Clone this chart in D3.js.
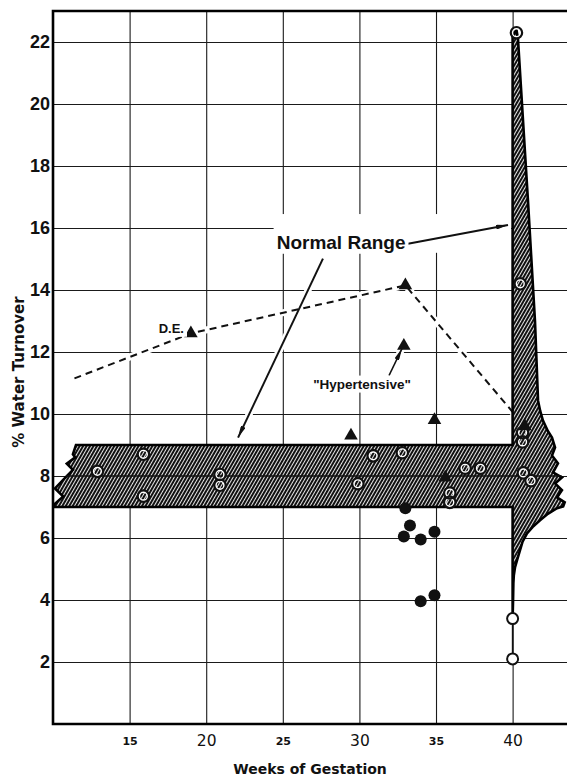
<!DOCTYPE html>
<html>
<head>
<meta charset="utf-8">
<script src="https://cdn.jsdelivr.net/npm/d3@7"></script>
<style>
body { margin: 0; background: #fff; }
svg { display: block; }
</style>
</head>
<body>
<svg id="chart" width="567" height="778"></svg>
<script>
// % water turnover by week of gestation

var xTicks = [15, 20, 25, 30, 35, 40];
var xTicksLarge = [20, 30, 40];
var yTicks = [2, 4, 6, 8, 10, 12, 14, 16, 18, 20, 22];

// open circles [week, %]
var openPoints = [
    [12.9, 8.15], [15.9, 8.7], [15.9, 7.35], [20.9, 8.05], [20.9, 7.7],
    [29.9, 7.75], [30.9, 8.65], [32.8, 8.75], [35.9, 7.45], [35.9, 7.15],
    [36.9, 8.25], [37.9, 8.25], [40.65, 9.4], [40.65, 9.1], [40.7, 8.1],
    [41.2, 7.85], [40.5, 14.2], [40.25, 22.3]
];
// open circles below the band, joined by a line
var tailPoints = [[40.0, 3.4], [40.0, 2.1]];

// filled circles
var filledPoints = [
    [33.0, 6.96], [33.3, 6.4], [32.9, 6.05], [34.0, 5.95], [34.9, 6.2],
    [34.0, 3.96], [34.9, 4.15]
];

// triangles
var trianglePoints = [
    [19.0, 12.6], [33.0, 14.15], [32.9, 12.2], [29.45, 9.3], [34.9, 9.8],
    [35.6, 7.95], [40.8, 9.6]
];

// dashed D.E. line
var dashedLine = [[11.4, 11.15], [19.0, 12.6], [33.0, 14.15], [40.8, 9.6]];

// normal range band, outline
var bandOutline = [
    [11.5, 9.0], [40.0, 9.0], [40.0, 22.2], [40.25, 22.4], [40.35, 22.1],
    [41.0, 16.9], [41.46, 13.0], [41.66, 10.43], [41.8, 10.1], [41.98, 9.79],
    [42.3, 9.45], [42.57, 9.24], [42.77, 8.92],
    [42.57, 8.66], [42.96, 8.41], [42.64, 8.12], [43.22, 7.95], [42.77, 7.76],
    [43.22, 7.54], [42.9, 7.31], [43.4, 7.15], [43.3, 7.02],
    [42.9, 6.96], [42.3, 6.78], [41.79, 6.57], [41.3, 6.35], [40.94, 6.15],
    [40.65, 5.88], [40.48, 5.6], [40.3, 5.3], [40.16, 5.06], [40.08, 4.8],
    [40.05, 4.54], [40.03, 4.0], [40.0, 3.41],
    [40.0, 7.0], [10.07, 7.0],
    [10.07, 7.08], [10.67, 7.34], [10.13, 7.6], [10.85, 7.97], [11.3, 8.2],
    [10.9, 8.4], [11.45, 8.6], [11.3, 8.7]
];
var bandMid = [[10.85, 8.0], [43.2, 8.0]];

// annotations
var noteText = ['Normal Range', 'D.E.', '"Hypertensive"'];
var noteAt = [[24.6, 15.33], [16.9, 12.62], [30.17, 10.82]];
var arrowLines = [
    [[27.62, 15.01], [22.08, 9.24]],
    [[33.17, 15.49], [39.7, 16.1]],
    [[31.93, 11.24], [32.78, 12.11]]
];

var svg = d3.select('#chart');

var x = d3.scaleLinear().domain([10, 43.55]).range([53, 567]);
var y = d3.scaleLinear().domain([0, 23]).range([724, 11]);

var line = d3.line()
    .x(function(d) { return x(d[0]); })
    .y(function(d) { return y(d[1]); });

// hatch + arrow head
var defs = svg.append('defs');
var pat = defs.append('pattern')
    .attr('id', 'hatch')
    .attr('patternUnits', 'userSpaceOnUse')
    .attr('width', 3).attr('height', 10)
    .attr('patternTransform', 'rotate(30)');
pat.append('rect').attr('width', 3).attr('height', 10).attr('fill', '#fff');
pat.append('rect').attr('width', 2.1).attr('height', 10).attr('fill', '#111');

defs.append('marker')
    .attr('id', 'head')
    .attr('viewBox', '0 0 12 5')
    .attr('refX', 12).attr('refY', 2.5)
    .attr('markerWidth', 12).attr('markerHeight', 5)
    .attr('markerUnits', 'userSpaceOnUse')
    .attr('orient', 'auto')
  .append('path')
    .attr('d', 'M0,0L12,2.5L0,5Z')
    .attr('fill', '#111');

// grid
var gx = svg.append('g')
    .attr('transform', 'translate(0,' + y(0) + ')')
    .call(d3.axisBottom(x).tickValues(xTicks).tickSize(-(y(0) - y(23))).tickFormat(d3.format('d')));
gx.select('.domain').remove();
gx.selectAll('line').attr('stroke', '#1a1a1a').attr('stroke-width', 1.1);
gx.selectAll('text')
    .attr('fill', '#111')
    .attr('font-family', '"DejaVu Sans", sans-serif')
    .attr('font-size', function(d) { return xTicksLarge.indexOf(d) >= 0 ? 15.5 : 11; })
    .attr('font-weight', function(d) { return xTicksLarge.indexOf(d) >= 0 ? 'normal' : 'bold'; })
    .attr('y', function(d) { return xTicksLarge.indexOf(d) >= 0 ? 11 : 13.5; });

var gy = svg.append('g')
    .attr('transform', 'translate(' + x(10) + ',0)')
    .call(d3.axisLeft(y).tickValues(yTicks).tickSize(-(x(43.55) - x(10))).tickPadding(3));
gy.select('.domain').remove();
gy.selectAll('line').attr('stroke', '#1a1a1a').attr('stroke-width', 1.1);
gy.selectAll('text')
    .attr('fill', '#111')
    .attr('font-family', '"Liberation Sans", Arial, sans-serif')
    .attr('font-size', 18)
    .attr('font-weight', 'bold');

// knock the grid out around the "Normal Range" note
svg.append('rect')
    .attr('x', x(24.4)).attr('y', y(16.45))
    .attr('width', x(39.9) - x(24.4)).attr('height', y(15.2) - y(16.45))
    .attr('fill', '#fff');

// white halos under lines, as in the print
svg.append('path')
    .datum(dashedLine)
    .attr('d', line)
    .attr('fill', 'none')
    .attr('stroke', '#fff')
    .attr('stroke-width', 7);
svg.selectAll('.halo')
    .data(arrowLines)
    .enter().append('path')
    .attr('class', 'halo')
    .attr('d', line)
    .attr('stroke', '#fff')
    .attr('stroke-width', 7);

svg.append('path')
    .datum(dashedLine)
    .attr('d', line)
    .attr('fill', 'none')
    .attr('stroke', '#111')
    .attr('stroke-width', 2)
    .attr('stroke-dasharray', '7,5');

// band
svg.append('path')
    .datum(bandOutline)
    .attr('d', line.curve(d3.curveLinearClosed))
    .attr('fill', 'url(#hatch)')
    .attr('stroke', '#000')
    .attr('stroke-width', 2.6)
    .attr('stroke-linejoin', 'miter');
line.curve(d3.curveLinear);

svg.append('path')
    .datum(bandMid)
    .attr('d', line)
    .attr('stroke', '#111')
    .attr('stroke-width', 1.3);

// tail
svg.append('path')
    .datum(tailPoints)
    .attr('d', line)
    .attr('stroke', '#111')
    .attr('stroke-width', 1.6);

// markers
svg.selectAll('.ring')
    .data(openPoints)
    .enter().append('circle')
    .attr('class', 'ring')
    .attr('cx', function(d) { return x(d[0]); })
    .attr('cy', function(d) { return y(d[1]); })
    .attr('r', 4.2)
    .attr('fill', 'none')
    .attr('stroke', '#fff')
    .attr('stroke-width', 2);
svg.selectAll('.open')
    .data(openPoints)
    .enter().append('circle')
    .attr('class', 'open')
    .attr('cx', function(d) { return x(d[0]); })
    .attr('cy', function(d) { return y(d[1]); })
    .attr('r', 5.7)
    .attr('fill', 'none')
    .attr('stroke', '#111')
    .attr('stroke-width', 2.2);
svg.selectAll('.tail')
    .data(tailPoints)
    .enter().append('circle')
    .attr('class', 'tail')
    .attr('cx', function(d) { return x(d[0]); })
    .attr('cy', function(d) { return y(d[1]); })
    .attr('r', 5.5)
    .attr('fill', '#fff')
    .attr('stroke', '#111')
    .attr('stroke-width', 2);

svg.selectAll('.filled')
    .data(filledPoints)
    .enter().append('circle')
    .attr('class', 'filled')
    .attr('cx', function(d) { return x(d[0]); })
    .attr('cy', function(d) { return y(d[1]); })
    .attr('r', 6)
    .attr('fill', '#111');

svg.selectAll('.tri')
    .data(trianglePoints)
    .enter().append('path')
    .attr('class', 'tri')
    .attr('transform', function(d) { return 'translate(' + x(d[0]) + ',' + y(d[1]) + ')'; })
    .attr('d', d3.symbol().type(d3.symbolTriangle).size(80))
    .attr('fill', '#111');

// arrows
svg.selectAll('.arrow')
    .data(arrowLines)
    .enter().append('path')
    .attr('class', 'arrow')
    .attr('d', line)
    .attr('stroke', '#111')
    .attr('stroke-width', function(d, i) { return i == 2 ? 1.5 : 2; })
    .attr('marker-end', 'url(#head)');

// notes
var noteSize = [19, 13, 13.5];
var noteAnchor = ['start', 'start', 'middle'];
noteText.forEach(function(t, i) {
    var g = svg.append('g');
    var txt = g.append('text')
        .attr('x', x(noteAt[i][0]))
        .attr('y', y(noteAt[i][1]))
        .attr('text-anchor', noteAnchor[i])
        .attr('font-family', '"Liberation Sans", Arial, sans-serif')
        .attr('font-weight', 'bold')
        .attr('font-size', noteSize[i])
        .attr('fill', '#111')
        .text(t);
    var b = txt.node().getBBox();
    g.insert('rect', 'text')
        .attr('x', b.x - 3).attr('y', b.y - 1)
        .attr('width', b.width + 6).attr('height', b.height + 2)
        .attr('fill', '#fff');
});

// frame
svg.append('path')
    .attr('d', 'M' + x(43.55) + ',' + y(23) + 'H' + x(10) + 'V' + y(0) + 'H' + x(43.55))
    .attr('fill', 'none')
    .attr('stroke', '#000')
    .attr('stroke-width', 2.6);

// axis titles
svg.append('text')
    .attr('x', 310).attr('y', 774)
    .attr('text-anchor', 'middle')
    .attr('font-family', '"DejaVu Sans", sans-serif')
    .attr('font-weight', 'bold')
    .attr('font-size', 14)
    .attr('fill', '#111')
    .text('Weeks of Gestation');

svg.append('text')
    .attr('transform', 'translate(24,372) rotate(-90)')
    .attr('text-anchor', 'middle')
    .attr('font-family', '"DejaVu Sans", sans-serif')
    .attr('font-weight', 'bold')
    .attr('font-size', 15)
    .attr('fill', '#111')
    .text('% Water Turnover');
</script>
</body>
</html>
